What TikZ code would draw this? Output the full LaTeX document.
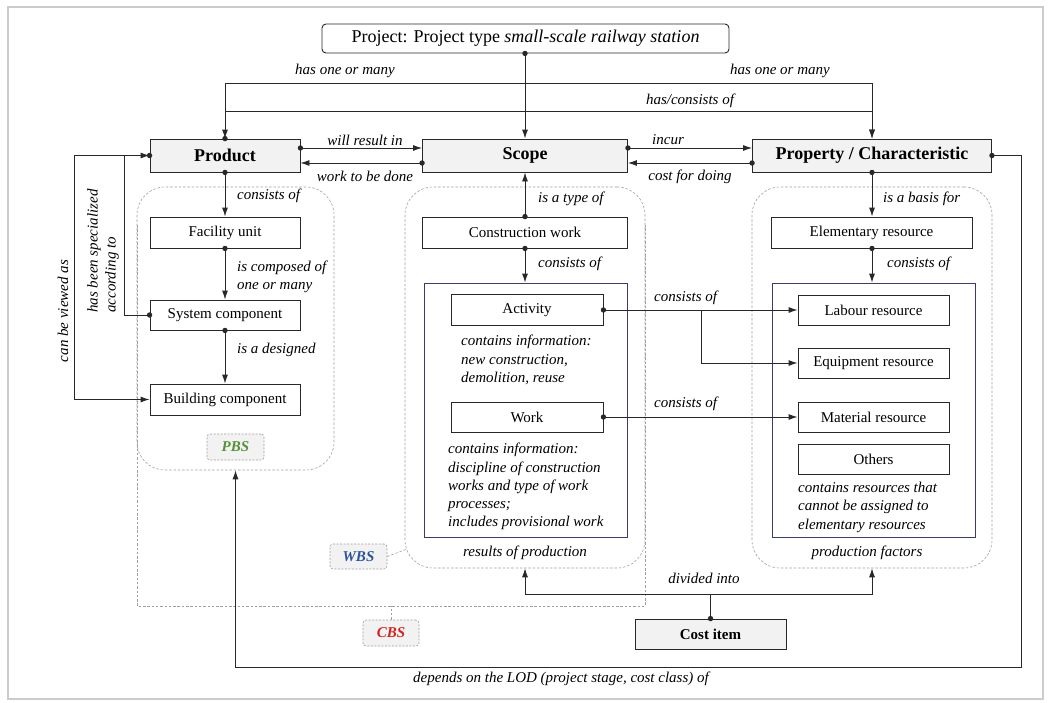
\documentclass[tikz,border=0pt]{standalone}
\usepackage{fontspec}
\setmainfont{Liberation Serif}
\usetikzlibrary{arrows.meta,calc}
\definecolor{pbsgreen}{RGB}{84,146,58}
\definecolor{wbsblue}{RGB}{44,84,156}
\definecolor{cbsred}{RGB}{210,36,36}
\definecolor{innerblue}{RGB}{58,60,112}
\definecolor{boxline}{RGB}{40,40,40}
\definecolor{headfill}{RGB}{242,242,242}
\newcommand\dotat[1]{\fill[boxline] (#1) circle (2.7pt);}
\begin{document}
\begin{tikzpicture}[x=1pt,y=-1pt,
  every node/.style={inner sep=0pt},
  box/.style={draw=boxline, line width=0.9pt, fill=white, minimum height=31pt, font=\fontsize{15}{18}\selectfont},
  headbox/.style={box, fill=headfill, minimum height=33pt, font=\bfseries\fontsize{18}{21}\selectfont},
  container/.style={draw=gray!75, dash pattern=on 2.5pt off 1.8pt, line width=0.6pt, rounded corners=28pt},
  innerbox/.style={draw=innerblue, line width=0.9pt},
  tagbox/.style={draw=gray!75, dash pattern=on 2pt off 1.5pt, line width=0.6pt, fill=headfill, rounded corners=3pt, font=\bfseries\itshape\fontsize{15}{18}\selectfont},
  lbl/.style={font=\itshape\fontsize{15}{18}\selectfont},
  conn/.style={draw=boxline, line width=0.9pt, -{Latex[length=9pt,width=6pt]}},
  plain/.style={draw=boxline, line width=0.9pt},
  thin dash/.style={draw=gray!75, dash pattern=on 2.5pt off 1.8pt, line width=0.6pt}
]
\useasboundingbox (0,0) rectangle (1051,702);
\draw[gray!40, line width=1.2pt] (8,7) rectangle (1043,699);

% containers
\node[container, minimum width=197pt, minimum height=283pt] (pbs) at (235.5,328.5) {};
\node[container, minimum width=240pt, minimum height=381pt] (wbs) at (525,377.5) {};
\node[container, minimum width=240pt, minimum height=381pt] (rbs) at (872,377.5) {};
\draw[thin dash] (137,225) -- (137,606) -- (645,606) -- (645,225);
\node[innerbox, minimum width=203pt, minimum height=254pt] (wbsin) at (525.5,410) {};
\node[innerbox, minimum width=203pt, minimum height=254pt] (rin) at (873.5,410) {};

% main nodes
\node[box, draw=boxline, rounded corners=4pt, minimum width=407pt, minimum height=29pt, font=\fontsize{18}{21}\selectfont] (proj) at (525.5,38.5) {Project: Project type \textit{small-scale railway station}};
\node[headbox, minimum width=150pt] (product) at (225,155.5) {Product};
\node[headbox, minimum width=205pt] (scope) at (525,155.5) {Scope};
\node[headbox, minimum width=239pt] (prop) at (872,155.5) {Property / Characteristic};

\node[box, minimum width=150pt] (facility) at (225,232.5) {Facility unit};
\node[box, minimum width=150pt, minimum height=30pt] (system) at (225,315) {System component};
\node[box, minimum width=150pt] (building) at (225,399.5) {Building component};

\node[box, minimum width=205pt] (construct) at (525,232.5) {Construction work};
\node[box, minimum width=152pt] (activity) at (527,310) {Activity};
\node[box, minimum width=152pt, minimum height=30pt] (work) at (527,417) {Work};

\node[box, minimum width=201pt] (elem) at (871.5,232.5) {Elementary resource};
\node[box, minimum width=151pt, minimum height=30pt] (labour) at (873.5,310) {Labour resource};
\node[box, minimum width=151pt, minimum height=30pt] (equip) at (873.5,363) {Equipment resource};
\node[box, minimum width=151pt, minimum height=30pt] (material) at (873.5,417) {Material resource};
\node[box, minimum width=151pt, minimum height=30pt] (others) at (873.5,459) {Others};

\node[headbox, minimum width=151pt, minimum height=30pt, font=\bfseries\fontsize{15}{18}\selectfont] (costitem) at (710.5,634) {Cost item};

% tags
\node[tagbox, text=pbsgreen, minimum width=57pt, minimum height=26pt] (pbstag) at (235.5,447) {PBS};
\node[tagbox, text=wbsblue, minimum width=57pt, minimum height=25pt] (wbstag) at (358.5,556.5) {WBS};
\node[tagbox, text=cbsred, minimum width=56pt, minimum height=26pt] (cbstag) at (391,633) {CBS};
\coordinate (wbsc) at (407,549);
\coordinate (cbsc) at (391,606);
\draw[thin dash] (wbstag.east) -- (wbsc);
\draw[thin dash] (cbstag.north) -- (cbsc);

% coordinates
\coordinate (j1) at (525,83);
\coordinate (h2) at (225,111);
\coordinate (lv) at (74,155.5);
\coordinate (sv) at (124,315);
\coordinate (ab) at (701,310);
\coordinate (r1) at (1021,155.5);
\coordinate (r2) at (235.5,667);
\coordinate (cj) at (710.5,594);

% connectors
\draw[conn] (scope.north |- proj.south) -- (scope.north);
\draw[conn] (j1) -| (product.north);
\draw[conn] (j1) -| (prop.north);
\draw[conn] (h2) -| (prop.north);

\draw[conn] ([yshift=7.5pt]product.east) -- ([yshift=7.5pt]scope.west);
\draw[conn] ([yshift=-7.5pt]scope.west) -- ([yshift=-7.5pt]product.east);
\draw[conn] ([yshift=7.5pt]scope.east) -- ([yshift=7.5pt]prop.west);
\draw[conn] ([yshift=-7.5pt]prop.west) -- ([yshift=-7.5pt]scope.east);

\draw[conn] (product.south) -- (facility.north);
\draw[conn] (facility.south) -- (system.north);
\draw[conn] (system.south) -- (building.north);

\draw[conn] (construct.north) -- (scope.south);
\draw[conn] (construct.south) -- (construct.south |- wbsin.north);
\draw[conn] (prop.south) -- (prop.south |- elem.north);
\draw[conn] (prop.south |- elem.south) -- (prop.south |- rin.north);

\draw[conn] (activity.east) -- (labour.west);
\draw[conn] (ab) |- (equip.west);
\draw[conn] (work.east) -- (material.west);

\draw[conn] (product.west) -- (lv) |- (building.west);
\draw[conn] (system.west) -- (sv) |- (product.west);

\draw[conn] (prop.east) -- (r1) |- (r2) -- (pbs.south);

\draw[plain] (costitem.north) -- (cj);
\draw[conn] (cj) -| (wbs.south);
\draw[conn] (cj) -| (rbs.south);

% dots
\dotat{scope.north |- proj.south}
\dotat{product.north}
\dotat{product.west}
\dotat{product.south}
\dotat{facility.south}
\dotat{system.south}
\dotat{system.west}
\dotat{$(product.east)+(0,-7.5)$}
\dotat{$(scope.west)+(0,7.5)$}
\dotat{$(scope.east)+(0,-7.5)$}
\dotat{$(prop.west)+(0,7.5)$}
\dotat{prop.east}
\dotat{prop.south}
\dotat{construct.north}
\dotat{construct.south}
\dotat{prop.south |- elem.south}
\dotat{activity.east}
\dotat{work.east}
\dotat{costitem.north}

% labels
\node[lbl] (l1) at (345,71) {has one or many};
\node[lbl] (l2) at (780,71) {has one or many};
\node[lbl] (l3) at (690,101) {has/consists of};
\node[lbl] (l4) at (365,140) {will result in};
\node[lbl] (l5) at (365,176) {work to be done};
\node[lbl] (l6) at (668,140) {incur};
\node[lbl] (l7) at (690,177) {cost for doing};
\node[lbl, anchor=west] (l8) at (237,196) {consists of};
\node[lbl, anchor=west, align=left] (l9) at (237,276.5) {is composed of\\one or many};
\node[lbl, anchor=west] (l10) at (237,350) {is a designed};
\node[lbl, anchor=west] (l11) at (538,199) {is a type of};
\node[lbl, anchor=west] (l12) at (538,264) {consists of};
\node[lbl, anchor=west] (l13) at (883,199) {is a basis for};
\node[lbl, anchor=west] (l14) at (887,264) {consists of};
\node[lbl, anchor=west] (l15) at (654,298) {consists of};
\node[lbl, anchor=west] (l16) at (654,404) {consists of};
\node[lbl, anchor=north west, align=left, font=\itshape\fontsize{15}{18.5}\selectfont] (i1) at (461,335) {contains information:\\new construction,\\demolition, reuse};
\node[lbl, anchor=north west, align=left, font=\itshape\fontsize{15}{18.3}\selectfont] (i2) at (448,443) {contains information:\\discipline of construction\\works and type of work\\processes;\\includes provisional work};
\node[lbl, anchor=north west, align=left, font=\itshape\fontsize{15}{18.3}\selectfont] (i3) at (798,482) {contains resources that\\cannot be assigned to\\elementary resources};
\node[lbl] (l17) at (525,553) {results of production};
\node[lbl] (l18) at (867,553) {production factors};
\node[lbl] (l19) at (704,578) {divided into};
\node[lbl] (l20) at (561,679) {depends on the LOD (project stage, cost class) of};
\node[lbl, rotate=90] (l21) at (63,311) {can be viewed as};
\node[lbl, rotate=90, align=left] (l22) at (103,251) {has been specialized\\according to};
\end{tikzpicture}
\end{document}
